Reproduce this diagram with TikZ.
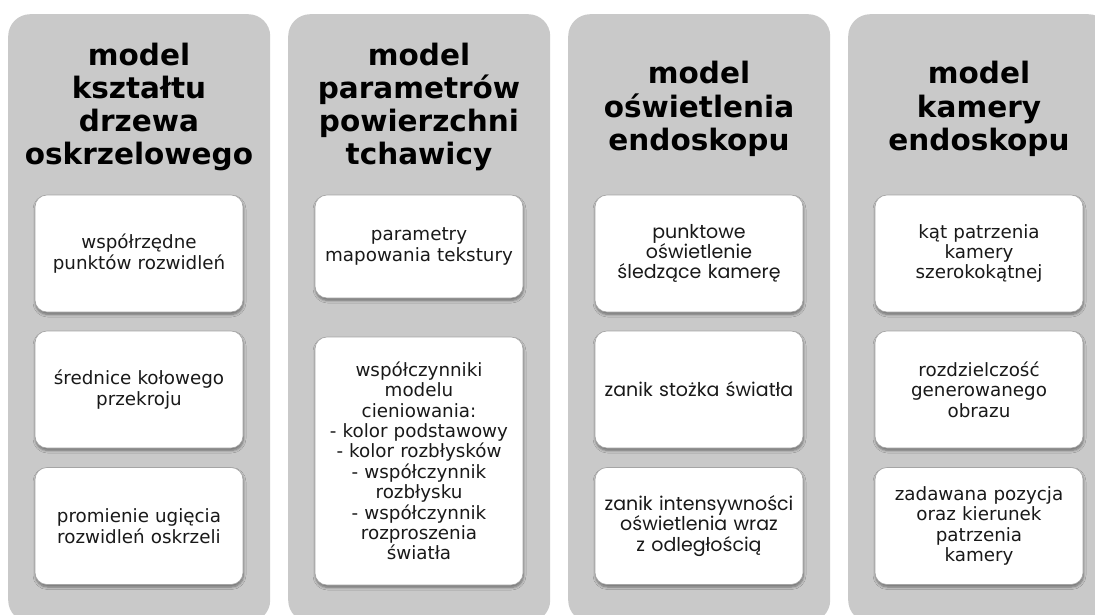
\documentclass[tikz,border=0pt]{standalone}
\usepackage{fontspec}
\setmainfont{DejaVu Sans}
\newfontfamily\geofont{Poppins}
\usetikzlibrary{shadows.blur}
\definecolor{colgrey}{RGB}{201,201,201}
\definecolor{boxedge}{RGB}{165,165,165}
\definecolor{txt}{RGB}{25,25,25}
\tikzset{
  column/.style={fill=colgrey, draw=none, rounded corners=22pt, anchor=north west,
    minimum width=262pt, minimum height=608pt, inner sep=0pt},
  header/.style={align=center, font=\bfseries\fontsize{29.5}{33.3}\selectfont, text=black, inner sep=0pt},
  itembox/.style={fill=white, draw=boxedge, line width=0.6pt, rounded corners=12pt,
    minimum width=208pt, text width=204pt, align=center, inner sep=0pt,
    font=\fontsize{18.3}{20.4}\selectfont, text=txt,
    blur shadow={shadow xshift=0.5pt, shadow yshift=-2.5pt, shadow blur steps=6,
      shadow blur radius=2.5pt, shadow opacity=45}},
  geo/.style={font=\geofont\fontsize{19}{20.4}\selectfont}
}
\begin{document}
\begin{tikzpicture}[x=1pt,y=-1pt]
\useasboundingbox (0,0) rectangle (1095,615);
\clip (0,0) rectangle (1095,615);
% columns
\node[column] (c1) at (8,14) {};
\node[column] (c2) at (288,14) {};
\node[column] (c3) at (568,14) {};
\node[column] (c4) at (848,14) {};
% headers
\node[header] (h1) at (139,107) {model\\kształtu\\drzewa\\oskrzelowego};
\node[header] (h2) at (419,107) {model\\parametrów\\powierzchni\\tchawicy};
\node[header] (h3) at (699,109) {model\\oświetlenia\\endoskopu};
\node[header] (h4) at (979,109) {model\\kamery\\endoskopu};
% column 1
\node[itembox, minimum height=117pt] (b11) at (139,253.5) {współrzędne\\punktów rozwidleń};
\node[itembox, minimum height=117pt] (b12) at (139,389.5) {średnice kołowego\\przekroju};
\node[itembox, minimum height=117pt] (b13) at (139,526) {promienie ugięcia\\rozwidleń oskrzeli};
% column 2
\node[itembox, minimum height=103pt] (b21) at (419,246.5) {parametry\\mapowania tekstury};
\node[itembox, minimum height=248pt] (b22) at (419,461) {współczynniki\\modelu\\cieniowania:\\- kolor podstawowy\\- kolor rozbłysków\\- współczynnik\\rozbłysku\\- współczynnik\\rozproszenia\\światła};
% column 3
\node[itembox, geo, minimum height=117pt] (b31) at (699,253.5) {punktowe\\oświetlenie\\śledzące kamerę};
\node[itembox, geo, minimum height=117pt] (b32) at (699,389.5) {zanik stożka światła};
\node[itembox, geo, minimum height=117pt] (b33) at (699,526) {zanik intensywności\\oświetlenia wraz\\z odległością};
% column 4
\node[itembox, minimum height=117pt] (b41) at (979,253.5) {kąt patrzenia\\kamery\\szerokokątnej};
\node[itembox, minimum height=117pt] (b42) at (979,389.5) {rozdzielczość\\generowanego\\obrazu};
\node[itembox, minimum height=117pt] (b43) at (979,526) {zadawana pozycja\\oraz kierunek\\patrzenia\\kamery};
\end{tikzpicture}
\end{document}
